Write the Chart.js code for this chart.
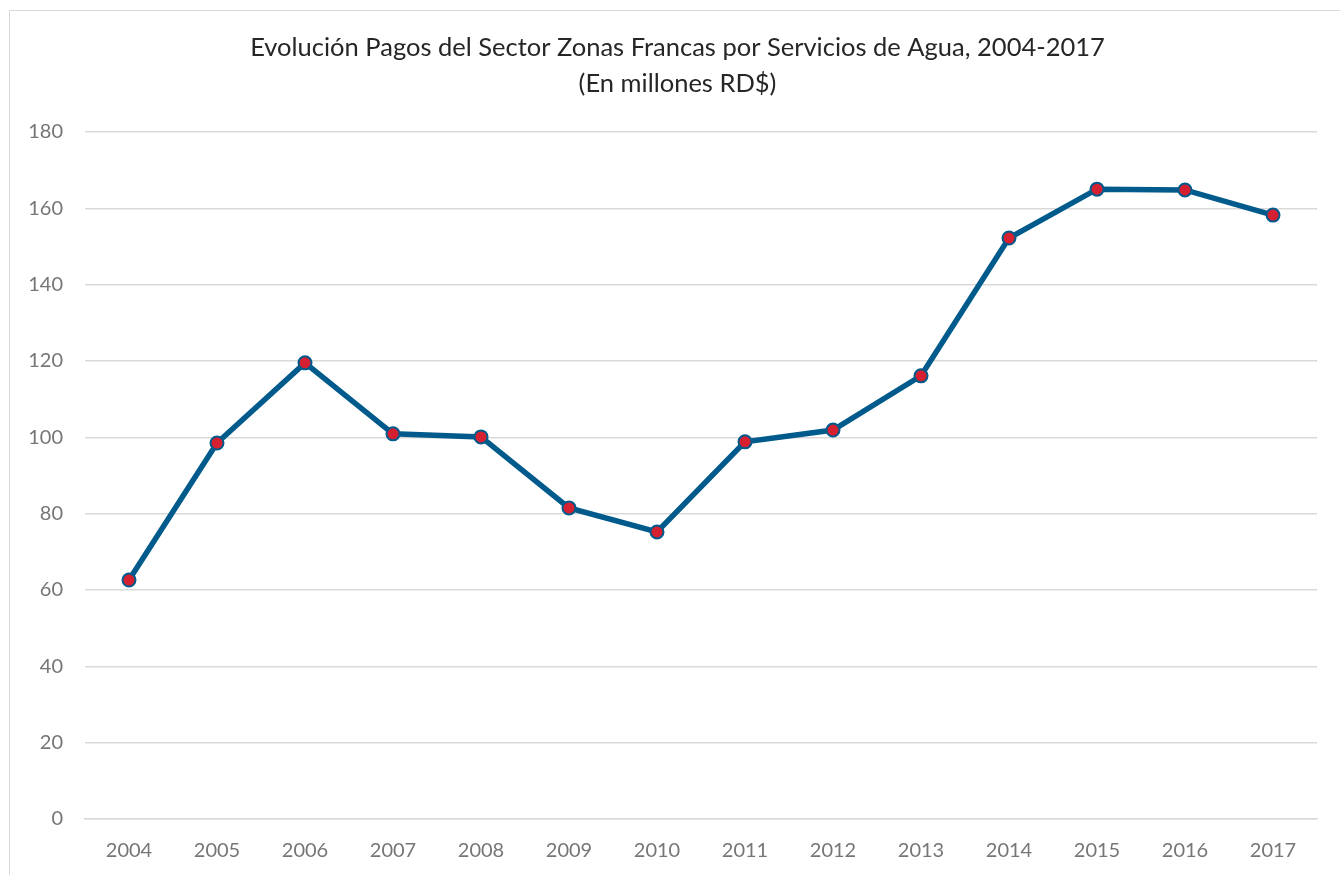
<!DOCTYPE html>
<html>
<head>
<meta charset="utf-8">
<script src="https://cdn.jsdelivr.net/npm/chart.js@4.4.0/dist/chart.umd.min.js"></script>
<style>
html,body{margin:0;padding:0;background:#fff;}
#wrap{position:absolute;left:0;top:0;width:1340px;height:875px;}
#frame{position:absolute;left:9px;top:10px;width:1340px;height:880px;border:1px solid #d9d9d9;box-sizing:border-box;pointer-events:none;}
canvas{position:absolute;left:0;top:0;}
</style>
</head>
<body>
<div id="wrap"><canvas id="c" width="1340" height="875"></canvas><div id="frame"></div></div>
<script>
const categories = ["2004","2005","2006","2007","2008","2009","2010","2011","2012","2013","2014","2015","2016","2017"];
const pagosAgua = [62.6, 98.5, 119.5, 100.9, 100.1, 81.5, 75.2, 98.8, 101.9, 116.1, 152.2, 165.0, 164.8, 158.2];
const titleLines = ["Evolución Pagos del Sector Zonas Francas por Servicios de Agua, 2004-2017", "(En millones RD$)"];
const yMin = 0, yMax = 180, yStep = 20;

const FONT = "Lato, 'Open Sans', sans-serif";

const shiftTitle = {
  id: 'shiftTitle',
  afterLayout(chart) {
    const t = chart.titleBlock;
    if (t) { t.left = 38; t.right = chart.width - 23; t.width = t.right - t.left; }
  }
};

new Chart(document.getElementById('c'), {
  type: 'line',
  data: {
    labels: categories,
    datasets: [{
      data: pagosAgua,
      borderColor: '#005a8c',
      borderWidth: 5.5,
      pointBackgroundColor: '#d42030',
      pointBorderColor: '#005a8c',
      pointBorderWidth: 2,
      pointRadius: 6.5,
      tension: 0,
      fill: false
    }]
  },
  plugins: [shiftTitle],
  options: {
    responsive: false,
    animation: false,
    layout: { padding: { left: 0, right: 23, top: 0, bottom: 0 } },
    plugins: {
      legend: { display: false },
      tooltip: { enabled: false },
      title: {
        display: true,
        text: titleLines,
        color: '#262626',
        font: { family: FONT, size: 25.5, weight: 'normal', lineHeight: 1.41 },
        padding: { top: 30, bottom: 30 }
      }
    },
    scales: {
      x: {
        offset: true,
        grid: { display: false, drawTicks: false },
        border: { display: true, color: '#d9d9d9', width: 1.5 },
        ticks: { color: '#767676', font: { family: FONT, size: 20 }, padding: 20, maxRotation: 0 },
        afterFit: (s) => { s.height = 56; }
      },
      y: {
        min: yMin, max: yMax,
        ticks: { stepSize: yStep, color: '#767676', font: { family: FONT, size: 20 }, padding: 22 },
        grid: { color: '#d9d9d9', lineWidth: 1.5, drawTicks: false },
        border: { display: false },
        afterFit: (s) => { s.width = 85; }
      }
    }
  }
});
</script>
</body>
</html>
